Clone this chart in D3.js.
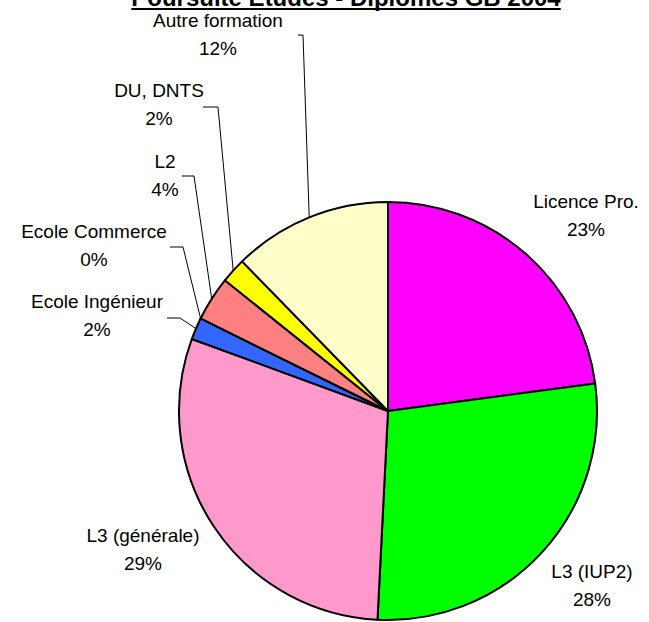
<!DOCTYPE html>
<html>
<head>
<meta charset="utf-8">
<script src="https://cdn.jsdelivr.net/npm/d3@7"></script>
<style>
  body { margin: 0; background: #fff; }
  text { font-family: "Liberation Sans", Arial, sans-serif; }
</style>
</head>
<body>
<script>
// Data
const categories = ['Licence Pro.', 'L3 (IUP2)', 'L3 (générale)', 'Ecole Ingénieur',
  'Ecole Commerce', 'L2', 'DU, DNTS', 'Autre formation'];
const values = [22.9, 27.9, 29.8, 1.7, 0, 3.45, 1.95, 12.3];
const pctLabels = ['23%', '28%', '29%', '2%', '0%', '4%', '2%', '12%'];
const colors = ['#ff00ff', '#00ff00', '#ff99cc', '#3366ff', '#ccffff', '#ff8080', '#ffff00', '#ffffcc'];
const title = 'Poursuite Etudes - Diplômés GB 2004';

// Label layout (centre x, first baseline) and leader line [x0, x1, y]
const labelPos = [
  { x: 586, y: 208 },
  { x: 592, y: 578 },
  { x: 143, y: 542 },
  { x: 97, y: 308, leader: [167, 180, 318] },
  { x: 94, y: 238, leader: [170, 183, 247] },
  { x: 165, y: 168, leader: [182, 194, 176] },
  { x: 159, y: 97, leader: [203, 218, 107] },
  { x: 218, y: 27, leader: [298, 303, 35] }
];

const width = 649;
const height = 622;
const cx = 388;
const cy = 411;
const radius = 209;

const svg = d3.select('body')
  .append('svg')
  .attr('width', width)
  .attr('height', height);

const pie = d3.pie().sort(null).value(d => d)(values);
const arc = d3.arc().innerRadius(0).outerRadius(radius);

const g = svg.append('g').attr('transform', `translate(${cx},${cy})`);

g.selectAll('path')
  .data(pie)
  .enter()
  .append('path')
  .attr('d', arc)
  .attr('fill', (d, i) => colors[i])
  .attr('stroke', '#000')
  .attr('stroke-width', 2)
  .attr('stroke-linejoin', 'round');

// Leader lines
pie.forEach((d, i) => {
  const lp = labelPos[i];
  if (!lp.leader) return;
  const a = (d.startAngle + d.endAngle) / 2;
  const px = cx + radius * Math.sin(a);
  const py = cy - radius * Math.cos(a);
  svg.append('polyline')
    .attr('points', [[lp.leader[0], lp.leader[2]], [lp.leader[1], lp.leader[2]], [px, py]].join(' '))
    .attr('fill', 'none')
    .attr('stroke', '#000')
    .attr('stroke-width', 1);
});

// Labels
categories.forEach((c, i) => {
  const lp = labelPos[i];
  const t = svg.append('text')
    .attr('text-anchor', 'middle')
    .attr('font-size', '19px')
    .attr('fill', '#000');
  t.append('tspan').attr('x', lp.x).attr('y', lp.y).text(c);
  t.append('tspan').attr('x', lp.x).attr('y', lp.y + 28).text(pctLabels[i]);
});

// Title (cut off at top, underlined)
const tt = svg.append('text')
  .attr('x', 346)
  .attr('y', 6)
  .attr('text-anchor', 'middle')
  .attr('font-size', '24px')
  .attr('font-weight', 'bold')
  .text(title);
const tw = tt.node().getComputedTextLength();
svg.append('line')
  .attr('x1', 346 - tw / 2)
  .attr('x2', 346 + tw / 2)
  .attr('y1', 9)
  .attr('y2', 9)
  .attr('stroke', '#000')
  .attr('stroke-width', 2);
</script>
</body>
</html>
